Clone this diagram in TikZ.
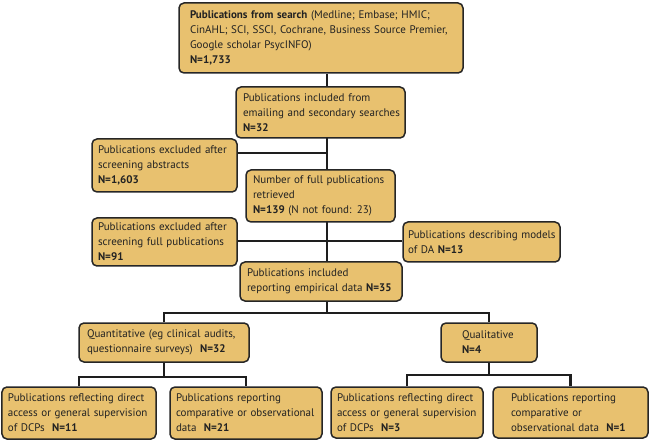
\documentclass[tikz,border=0pt]{standalone}
\usepackage{fontspec}
\setmainfont{PT Sans}
\usetikzlibrary{backgrounds}
\definecolor{boxfill}{HTML}{E8C16F}
\definecolor{boxline}{HTML}{262626}
\definecolor{conn}{HTML}{1E1E1E}
\definecolor{txt}{HTML}{222222}
\newcommand\oneln[1]{\mbox{#1}}
\tikzset{
  box/.style={draw=boxline, fill=boxfill, rounded corners=5bp, line width=1.5bp,
    align=left, text=txt, inner ysep=2bp,
    font=\fontsize{11bp}{15bp}\selectfont},
  conline/.style={draw=conn, line width=2.8bp}
}
\begin{document}
\begin{tikzpicture}[x=1bp, y=-1bp]
\useasboundingbox (0,0) rectangle (650,443);
\node[box, minimum height=70bp, inner xsep=11bp, text width=262bp] (top) at (321,38)
  {\oneln{\textbf{Publications from search} (Medline; Embase; HMIC;}\\\oneln{CinAHL; SCI, SSCI, Cochrane, Business Source Premier,}\\\oneln{Google scholar PsycINFO)}\\\textbf{N=1,733}};
\node[box, minimum height=51bp, inner xsep=7bp, text width=155bp] (emailing) at (320.5,112.5)
  {\oneln{Publications included from}\\\oneln{emailing and secondary searches}\\\textbf{N=32}};
\node[box, minimum height=53bp, inner xsep=6bp, text width=133bp] (exclAbs) at (164.5,165.5)
  {\oneln{Publications excluded after}\\\oneln{screening abstracts}\\\textbf{N=1,603}};
\node[box, minimum height=52bp, inner xsep=7bp, text width=135bp] (full) at (320.5,196)
  {\oneln{Number of full publications}\\\oneln{retrieved}\\\oneln{\textbf{N=139} (N not found: 23)}};
\node[box, minimum height=48bp, inner xsep=6bp, text width=133bp] (exclFull) at (164.5,242)
  {\oneln{Publications excluded after}\\\oneln{screening full publications}\\\textbf{N=91}};
\node[box, minimum height=40bp, inner xsep=5bp, text width=147bp] (models) at (481.5,242)
  {\oneln{Publications describing models}\\\oneln{of DA \textbf{N=13}}};
\node[box, minimum height=39bp, inner xsep=7bp, text width=148bp] (empirical) at (321,281.5)
  {\oneln{Publications included}\\\oneln{reporting empirical data \textbf{N=35}}};
\node[box, minimum height=39bp, inner xsep=8bp, text width=154bp] (quant) at (164,342.5)
  {\oneln{Quantitative (eg clinical audits,}\\\oneln{questionnaire surveys)\ \ \textbf{N=32}}};
\node[box, minimum height=39bp, inner xsep=21bp, text width=54bp] (qual) at (489,342.5)
  {\oneln{Qualitative}\\\textbf{N=4}};
\node[box, minimum height=52bp, inner xsep=6bp, text width=142bp] (b1) at (79,413)
  {\oneln{Publications reflecting direct}\\\oneln{access or general supervision}\\\oneln{of DCPs\ \ \textbf{N=11}}};
\node[box, minimum height=52bp, inner xsep=6bp, text width=140bp] (b2) at (246,413)
  {\oneln{Publications reporting}\\\oneln{comparative or observational}\\\oneln{data\ \ \textbf{N=21}}};
\node[box, minimum height=51bp, inner xsep=6bp, text width=140bp] (b3) at (407,412.5)
  {\oneln{Publications reflecting direct}\\\oneln{access or general supervision}\\\oneln{of DCPs\ \ \textbf{N=3}}};
\node[box, minimum height=51bp, inner xsep=18bp, text width=119bp] (b4) at (570.5,412.5)
  {\oneln{Publications reporting}\\\oneln{comparative or}\\\oneln{observational data\ \ \textbf{N=1}}};
\coordinate (j1) at (327,153);
\coordinate (j2) at (327,241);
\coordinate (j3) at (327,313);
\coordinate (j4) at (163,377);
\coordinate (j5) at (492,375);
\begin{scope}[on background layer]
\draw[conline] (j1 |- top.south) -- (j1 |- empirical.north);
\draw[conline] (exclAbs.east |- j1) -- (j1);
\draw[conline] (exclFull.east |- j2) -- (models.west |- j2);
\draw[conline] (j3 |- empirical.south) -- (j3);
\draw[conline] (quant.north) |- (j3) -| (qual.north);
\draw[conline] (quant.south) -- (quant.south |- j4);
\draw[conline] (b1.north) |- (j4) -| (b2.north);
\draw[conline] (qual.south) -- (qual.south |- j5);
\draw[conline] (b3.north) |- (j5) -| (b4.north);
\end{scope}
\end{tikzpicture}
\end{document}
